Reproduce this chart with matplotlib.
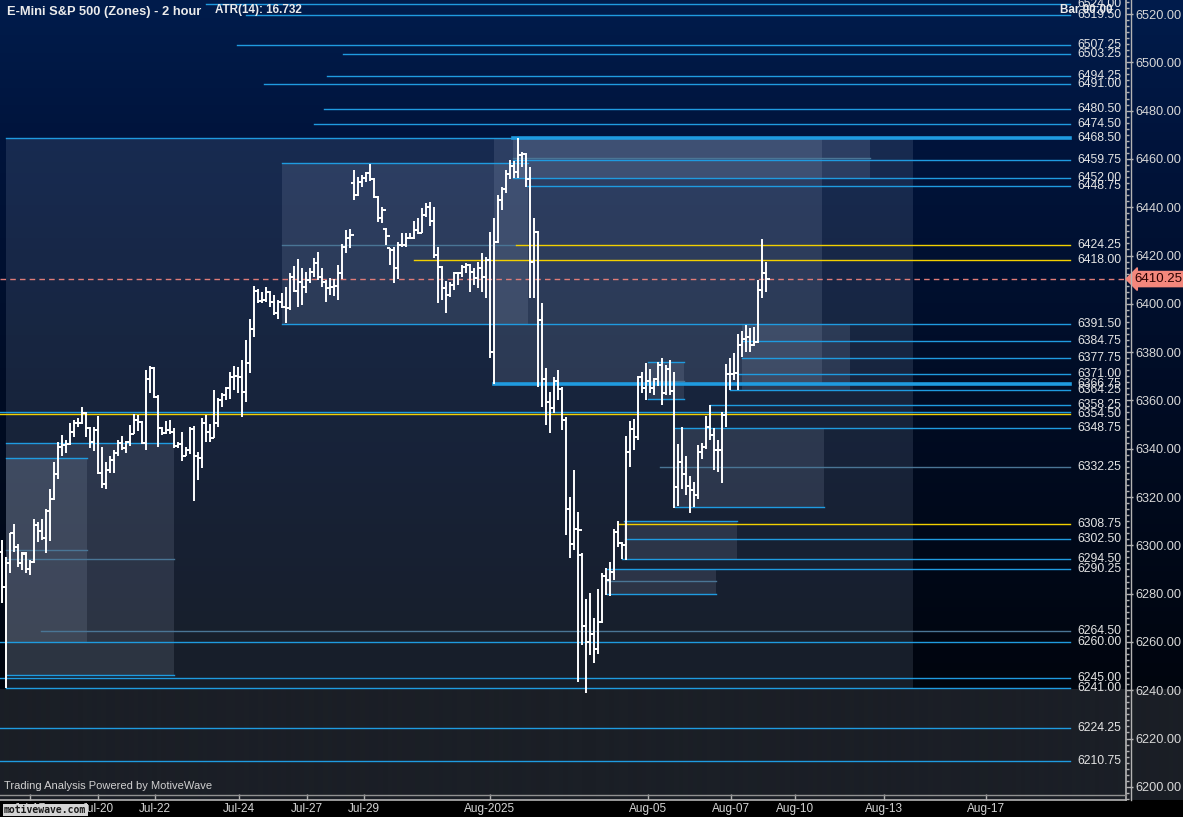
import matplotlib
matplotlib.use("Agg")
import matplotlib.pyplot as plt
import numpy as np
from matplotlib.collections import LineCollection
from matplotlib.patches import Rectangle
from matplotlib.lines import Line2D
from matplotlib.ticker import MultipleLocator, FixedLocator

plt.rcParams['font.family'] = ['Liberation Sans', 'DejaVu Sans']

# 2 hour OHLC bars (bar index 0 .. 191)
opens = [
    6297.3, 6282.6, 6292.5, 6304.9, 6299.4, 6292.5, 6296.4, 6290.2, 6292.9, 6308.3,
    6305.9, 6302.9, 6314.2, 6319.0, 6329.4, 6340.8, 6341.5, 6341.8, 6346.8, 6350.5,
    6350.8, 6354.6, 6348.7, 6342.9, 6347.7, 6329.8, 6325.2, 6331.2, 6335.3, 6338.3,
    6342.5, 6340.4, 6342.9, 6346.3, 6351.9, 6350.9, 6342.2, 6368.7, 6373.3, 6361.3,
    6348.4, 6346.6, 6347.8, 6347.1, 6341.2, 6341.8, 6337.1, 6339.4, 6348.0, 6337.0,
    6336.0, 6350.8, 6347.0, 6344.5, 6350.8, 6360.1, 6362.2, 6365.0, 6369.8, 6370.2,
    6369.5, 6363.4, 6375.4, 6389.4, 6405.4, 6401.3, 6401.6, 6405.0, 6400.9, 6396.1,
    6400.9, 6398.5, 6398.1, 6411.2, 6405.4, 6408.9, 6407.1, 6409.9, 6413.3, 6416.8,
    6411.2, 6408.9, 6406.4, 6407.1, 6407.4, 6412.6, 6423.4, 6427.1, 6449.9, 6445.1,
    6450.6, 6452.0, 6454.0, 6451.5, 6444.4, 6435.4, 6431.0, 6423.0, 6422.3, 6414.7,
    6424.4, 6424.4, 6427.1, 6427.1, 6430.6, 6429.5, 6436.8, 6440.2, 6434.3, 6420.2,
    6415.1, 6406.7, 6403.6, 6407.8, 6412.6, 6412.6, 6415.4, 6416.1, 6413.3, 6410.8,
    6414.7, 6411.2, 6418.1, 6380.2, 6425.7, 6443.0, 6447.4, 6453.7, 6457.1, 6454.7,
    6461.6, 6462.0, 6451.5, 6417.5, 6429.9, 6393.3, 6368.7, 6359.3, 6356.7, 6368.2,
    6364.8, 6351.9, 6314.9, 6300.5, 6306.6, 6296.0, 6266.6, 6260.1, 6263.3, 6256.9,
    6268.4, 6287.4, 6285.6, 6288.8, 6305.6, 6301.1, 6300.1, 6338.8, 6348.0, 6345.0,
    6369.8, 6365.0, 6368.2, 6365.0, 6368.7, 6374.6, 6362.9, 6372.9, 6364.0, 6324.3,
    6334.4, 6329.5, 6324.6, 6322.9, 6320.8, 6338.5, 6340.8, 6349.1, 6345.7, 6339.5,
    6339.5, 6353.9, 6370.9, 6370.9, 6371.2, 6382.9, 6385.3, 6386.4, 6383.0, 6384.3,
    6405.7, 6412.6,
]
highs = [
    6302.2, 6295.3, 6304.9, 6308.8, 6300.5, 6297.3, 6297.1, 6293.9, 6311.1, 6309.8,
    6310.9, 6315.0, 6323.3, 6334.6, 6342.6, 6345.7, 6343.6, 6350.8, 6352.1, 6352.6,
    6357.1, 6355.0, 6349.1, 6348.8, 6353.5, 6340.8, 6334.6, 6337.0, 6339.4, 6343.6,
    6345.2, 6343.2, 6349.8, 6354.3, 6353.9, 6351.6, 6372.6, 6374.2, 6373.7, 6362.2,
    6349.1, 6351.6, 6351.9, 6348.4, 6342.9, 6347.0, 6340.8, 6349.1, 6349.4, 6338.7,
    6352.6, 6354.0, 6350.2, 6364.3, 6360.8, 6362.9, 6365.4, 6371.9, 6374.2, 6374.0,
    6376.7, 6385.0, 6393.6, 6407.4, 6406.0, 6405.0, 6407.1, 6405.5, 6403.6, 6401.6,
    6404.3, 6407.1, 6412.6, 6415.6, 6418.5, 6414.7, 6413.3, 6414.7, 6418.8, 6421.3,
    6414.7, 6409.9, 6410.5, 6410.3, 6416.1, 6424.6, 6430.6, 6431.0, 6455.4, 6452.6,
    6453.3, 6454.7, 6457.9, 6451.9, 6444.8, 6440.0, 6431.5, 6423.0, 6423.7, 6425.7,
    6429.2, 6429.5, 6429.2, 6434.3, 6435.4, 6439.5, 6441.6, 6442.3, 6439.9, 6423.7,
    6415.5, 6409.4, 6409.2, 6413.3, 6413.3, 6416.1, 6416.8, 6416.5, 6414.7, 6417.4,
    6420.9, 6419.5, 6429.9, 6435.4, 6445.0, 6448.5, 6455.4, 6459.5, 6459.3, 6468.5,
    6463.0, 6462.5, 6456.5, 6435.4, 6430.0, 6400.2, 6373.3, 6363.6, 6369.5, 6372.6,
    6365.7, 6353.3, 6320.1, 6331.2, 6314.0, 6296.7, 6277.6, 6280.1, 6269.8, 6281.8,
    6288.4, 6290.5, 6293.0, 6306.6, 6310.1, 6301.5, 6345.3, 6351.6, 6352.2, 6370.1,
    6371.9, 6375.6, 6372.9, 6369.1, 6376.0, 6377.4, 6374.6, 6376.7, 6371.9, 6341.9,
    6348.8, 6337.0, 6328.7, 6326.3, 6341.5, 6342.5, 6353.5, 6358.1, 6348.4, 6343.6,
    6355.3, 6375.1, 6377.4, 6379.5, 6387.5, 6388.9, 6391.2, 6389.8, 6390.3, 6409.9,
    6426.8, 6417.2,
]
lows = [
    6276.0, 6240.8, 6288.4, 6297.3, 6291.1, 6289.8, 6288.6, 6287.7, 6292.8, 6301.5,
    6302.2, 6296.7, 6301.9, 6318.8, 6327.3, 6337.1, 6338.4, 6341.7, 6344.7, 6348.8,
    6350.2, 6345.0, 6340.4, 6339.2, 6329.5, 6323.6, 6323.2, 6329.8, 6329.8, 6337.0,
    6339.4, 6338.3, 6341.1, 6346.3, 6347.4, 6341.8, 6339.5, 6363.2, 6360.8, 6340.8,
    6345.7, 6346.1, 6346.3, 6340.5, 6340.1, 6335.0, 6336.8, 6337.8, 6318.5, 6327.0,
    6332.1, 6342.9, 6342.6, 6344.3, 6348.8, 6357.4, 6360.2, 6360.5, 6364.3, 6363.0,
    6353.3, 6359.5, 6371.2, 6386.4, 6400.2, 6400.5, 6400.9, 6398.8, 6395.4, 6393.6,
    6398.1, 6391.9, 6397.5, 6405.0, 6398.8, 6399.5, 6404.3, 6408.5, 6411.2, 6409.9,
    6407.1, 6400.9, 6403.6, 6403.4, 6401.6, 6410.3, 6421.2, 6423.0, 6443.0, 6444.5,
    6448.2, 6450.6, 6451.0, 6443.7, 6434.0, 6433.5, 6424.4, 6416.1, 6408.7, 6410.1,
    6423.7, 6423.7, 6426.7, 6426.8, 6428.9, 6429.2, 6436.1, 6432.3, 6418.8, 6400.2,
    6401.6, 6396.1, 6403.0, 6405.7, 6407.8, 6411.2, 6412.6, 6405.0, 6407.8, 6406.4,
    6405.0, 6402.3, 6377.4, 6367.0, 6425.0, 6438.8, 6445.7, 6451.5, 6452.0, 6452.0,
    6456.8, 6448.5, 6402.3, 6402.3, 6365.7, 6357.4, 6349.8, 6346.4, 6354.6, 6360.2,
    6347.8, 6304.3, 6294.6, 6298.0, 6243.5, 6258.7, 6238.7, 6254.6, 6251.1, 6255.0,
    6268.0, 6279.4, 6279.0, 6285.6, 6299.5, 6294.2, 6293.9, 6332.3, 6339.5, 6343.6,
    6362.9, 6360.2, 6362.9, 6362.2, 6366.0, 6358.1, 6362.2, 6362.2, 6315.3, 6316.3,
    6323.2, 6320.8, 6313.2, 6315.7, 6319.0, 6335.6, 6339.7, 6343.6, 6331.2, 6330.5,
    6325.7, 6348.8, 6364.3, 6368.4, 6364.3, 6378.1, 6380.2, 6380.2, 6382.5, 6383.6,
    6402.3, 6405.0,
]
closes = [
    6282.6, 6292.5, 6304.9, 6299.4, 6292.5, 6296.7, 6290.2, 6292.9, 6308.3, 6305.9,
    6302.9, 6314.2, 6319.0, 6329.4, 6340.8, 6341.5, 6341.8, 6346.8, 6350.5, 6350.8,
    6354.6, 6348.7, 6342.9, 6347.7, 6329.8, 6325.2, 6331.2, 6335.3, 6338.3, 6342.5,
    6340.4, 6342.9, 6346.3, 6351.9, 6350.9, 6342.2, 6368.7, 6373.3, 6361.3, 6348.4,
    6346.6, 6347.8, 6347.1, 6341.2, 6341.8, 6337.1, 6339.4, 6348.0, 6337.0, 6336.0,
    6350.8, 6347.0, 6344.5, 6350.8, 6360.1, 6362.2, 6365.0, 6369.8, 6370.2, 6369.5,
    6363.4, 6375.4, 6389.4, 6405.4, 6401.3, 6401.6, 6405.0, 6400.9, 6396.1, 6400.9,
    6398.5, 6398.1, 6411.2, 6405.4, 6408.9, 6407.1, 6409.9, 6413.3, 6416.8, 6411.2,
    6408.9, 6406.4, 6407.1, 6407.4, 6412.6, 6423.4, 6427.1, 6428.5, 6445.1, 6450.6,
    6452.0, 6454.0, 6451.5, 6444.4, 6435.4, 6438.8, 6428.0, 6422.3, 6414.7, 6424.4,
    6424.4, 6427.1, 6427.1, 6430.6, 6429.5, 6436.8, 6440.2, 6434.3, 6420.2, 6415.1,
    6406.7, 6403.6, 6407.8, 6412.6, 6412.6, 6415.4, 6416.1, 6413.3, 6410.8, 6414.7,
    6411.2, 6418.1, 6380.2, 6425.7, 6443.0, 6447.4, 6453.7, 6457.1, 6454.7, 6461.6,
    6462.0, 6451.5, 6417.5, 6429.9, 6393.3, 6368.7, 6359.3, 6356.7, 6368.2, 6364.8,
    6351.9, 6314.9, 6300.5, 6306.6, 6306.3, 6266.6, 6260.1, 6263.3, 6256.9, 6268.4,
    6287.4, 6285.6, 6288.8, 6305.6, 6301.1, 6300.1, 6338.8, 6348.0, 6345.0, 6369.8,
    6365.0, 6368.2, 6365.0, 6368.7, 6374.6, 6362.9, 6372.9, 6364.0, 6324.3, 6334.4,
    6329.5, 6324.6, 6322.9, 6320.8, 6338.5, 6340.8, 6349.1, 6345.7, 6339.5, 6339.5,
    6353.9, 6370.9, 6370.9, 6371.2, 6382.9, 6385.3, 6386.4, 6383.0, 6384.3, 6405.7,
    6412.6, 6410.25,
]
last_price = 6410.25

# labelled zone levels: price, bar where the line begins, kind
level_prices = [6524.00, 6519.50, 6507.25, 6503.25, 6494.25, 6491.00, 6480.50, 6474.50,
                6468.50, 6459.75, 6452.00, 6448.75, 6424.25, 6418.00, 6391.50, 6384.75,
                6377.75, 6371.00, 6366.75, 6364.25, 6358.25, 6354.50, 6348.75, 6332.25,
                6308.75, 6302.50, 6294.50, 6290.25, 6264.50, 6260.00, 6245.00, 6241.00,
                6224.25, 6210.75]
level_start = [50.9, 60.9, 58.7, 85.2, 81.2, 65.4, 80.4, 77.9,
               127.7, 127.7, 127.7, 131.2, 128.4, 102.9, 69.9, 184.9,
               184.9, 183.9, 122.9, 181.9, 176.9, -0.6, 168.2, 164.4,
               153.9, 155.7, 154.9, 151.2, 9.7, -0.6, -0.6, 0.9,
               -0.6, -0.6]
level_kind = ['b', 'b', 'b', 'b', 'b', 'b', 'b', 'b',
              'thick', 'b', 'b', 'b', 'y', 'y', 'b', 'b',
              'b', 'b', 'thick', 'b', 'b', 'y', 'b', 'g',
              'y', 'b', 'b', 'b', 'g', 'b', 'b', 'b',
              'b', 'b']
level_end = 266.9

# unlabelled zone edges: price, first bar, last bar, kind
short_price = [6468.5, 6458.25, 6424.25, 6460.5, 6342.5, 6336.0, 6298.0, 6294.2, 6246.3,
               6376.0, 6368.2, 6360.4, 6315.8, 6310.0, 6285.2, 6279.7, 6355.0]
short_x0 = [0.9, 69.9, 69.9, 127.7, 0.9, 0.9, 0.9, 0.9, 0.9,
            161.4, 161.4, 161.4, 168.2, 155.4, 151.2, 151.2, -0.6]
short_x1 = [127.7, 131.4, 128.4, 216.9, 42.9, 21.2, 21.2, 42.9, 42.9,
            170.4, 170.4, 170.4, 205.4, 183.7, 178.4, 178.4, 266.9]
short_kind = ['b', 'b', 'g', 'g', 'b', 'b', 'g', 'g', 'b',
              'b', 'g', 'b', 'b', 'b', 'g', 'b', 'b']

# zones: first bar, last bar, top price, bottom price
zone_x0 = [0.9, 69.9, 122.9, 127.7, 184.9, 0.9, 0.9, 161.4, 168.2, 155.4, 151.2]
zone_x1 = [227.7, 131.4, 204.9, 216.9, 211.9, 21.2, 42.9, 170.4, 205.4, 183.7, 178.4]
zone_top = [6468.5, 6458.25, 6468.5, 6468.5, 6391.5, 6336.0, 6342.5, 6376.0, 6348.75, 6310.0, 6290.25]
zone_bot = [6241.0, 6391.5, 6366.75, 6452.0, 6364.25, 6260.0, 6246.3, 6360.4, 6315.8, 6294.5, 6279.7]

date_pos = [6.9, 23.9, 38.2, 59.2, 76.2, 90.4, 121.9, 161.4, 182.2, 198.2, 220.4, 245.9]
date_labels = ['Jul-17', 'Jul-20', 'Jul-22', 'Jul-24', 'Jul-27', 'Jul-29', 'Aug-2025',
               'Aug-05', 'Aug-07', 'Aug-10', 'Aug-13', 'Aug-17']

W, H = 1183, 817
fig = plt.figure(figsize=(W / 100, H / 100), dpi=100)

# background: navy fading to black, grey strip below 6241, black time axis band
rows = np.arange(H)
img = np.zeros((H, 1, 3))
sy = [0, 140, 400, 689]
img[:, 0, 0] = np.interp(rows, sy, [0, 0, 0, 0])
img[:, 0, 1] = np.interp(rows, sy, [28, 20, 12, 5])
img[:, 0, 2] = np.interp(rows, sy, [76, 60, 36, 14])
img[689:800, 0] = [27, 31, 38]
img[800:, 0] = [0, 0, 0]
bg = fig.add_axes([0, 0, 1, 1], zorder=-5)
bg.imshow(img / 255.0, aspect='auto', extent=[0, 1, 0, 1])
bg.axis('off')

ax = fig.add_axes([0, 17 / H, 1126 / W, 800 / H])
ax.set_facecolor('none')
ax.set_xlim(-0.58, 280.9)
ax.set_ylim(6194.55, 6525.8)

blue = '#1f9be0'
colors = {'b': blue, 'thick': blue, 'y': '#f2d000', 'g': '#4a7595'}

for x0, x1, t, b in zip(zone_x0, zone_x1, zone_top, zone_bot):
    ax.add_patch(Rectangle((x0, b), x1 - x0, t - b, facecolor='#c4d4ee',
                           alpha=0.12, edgecolor='none', zorder=1))

for p, x0, x1, k in zip(short_price, short_x0, short_x1, short_kind):
    ax.plot([x0, x1], [p, p], color=colors[k], lw=1.0, zorder=2)

for p, x0, k in zip(level_prices, level_start, level_kind):
    ax.plot([x0, level_end], [p, p], color=colors[k],
            lw=2.6 if k == 'thick' else 1.0, zorder=3)
    ax.text(279.7, p, f"{p:.2f}", ha='right', va='center', fontsize=8.8,
            color='#e4e4e4', zorder=6, clip_on=False)

ax.axhline(last_price, color='#e07c78', lw=1.0, dashes=(4, 3), zorder=3)

# OHLC bars
segs = []
for i, (o, h, l, c) in enumerate(zip(opens, highs, lows, closes)):
    segs.append([(i, l), (i, h)])
    segs.append([(i - 0.8, o), (i, o)])
    segs.append([(i, c), (i + 0.8, c)])
ax.add_collection(LineCollection(segs, colors='white', linewidths=1.4, zorder=5))

# axes styling
for s in ['left', 'top']:
    ax.spines[s].set_visible(False)
for s in ['right', 'bottom']:
    ax.spines[s].set_color('#b4b4b4')
    ax.spines[s].set_linewidth(1.2)

ax.yaxis.tick_right()
ax.yaxis.set_major_locator(MultipleLocator(20))
ax.yaxis.set_minor_locator(MultipleLocator(2.5))
ax.yaxis.set_major_formatter(matplotlib.ticker.FormatStrFormatter('%.2f'))
ax.tick_params(axis='y', which='major', direction='out', length=5, width=1,
               color='#b4b4b4', labelcolor='#d8d8d8', labelsize=9.2, pad=1.5)
ax.tick_params(axis='y', which='minor', direction='out', length=2.5, width=1,
               color='#b4b4b4')

ax.xaxis.set_major_locator(FixedLocator(date_pos))
ax.set_xticklabels(date_labels)
ax.tick_params(axis='x', direction='in', length=4, width=1, color='#b4b4b4',
               labelcolor='#d4d4d4', labelsize=8.5, pad=2)

fig.add_artist(Line2D([1130.5 / W] * 2, [17 / H, 1], color='#b4b4b4', lw=1.0))
fig.add_artist(Line2D([0, 1126 / W], [22 / H] * 2, color='#909090', lw=1.0))

# current price marker
ax.text(1 + 8 / 1126, last_price, f"{last_price:.2f}", transform=ax.get_yaxis_transform(),
        ha='left', va='center', fontsize=9.5, color='#2a0000', zorder=8, clip_on=False,
        bbox=dict(boxstyle='larrow,pad=0.12', fc='#f4877c', ec='#f4877c'))

# texts
fig.text(7 / W, 1 - 12.5 / H, 'E-Mini S&P 500 (Zones) - 2 hour', fontsize=9.3,
         fontweight='bold', color='#ececec', va='center', ha='left')
fig.text(215 / W, 1 - 10 / H, 'ATR(14): 16.732', fontsize=8.4, fontweight='bold',
         color='#ececec', va='center', ha='left')
fig.text(1060 / W, 1 - 10 / H, 'Bar 00:00', fontsize=8.4, fontweight='bold',
         color='#ececec', va='center', ha='left')
fig.text(4 / W, 1 - 786 / H, 'Trading Analysis Powered by MotiveWave', fontsize=8.0,
         color='#d0d0d0', va='center', ha='left')
fig.text(4 / W, 1 - 810 / H, 'motivewave.com', fontsize=7, fontweight='bold',
         family='DejaVu Sans Mono', color='#1a1a1a', va='center', ha='left', zorder=10,
         bbox=dict(boxstyle='square,pad=0.15', fc='#d4d4d4', ec='none'))

fig.savefig('out.png', dpi=100)
